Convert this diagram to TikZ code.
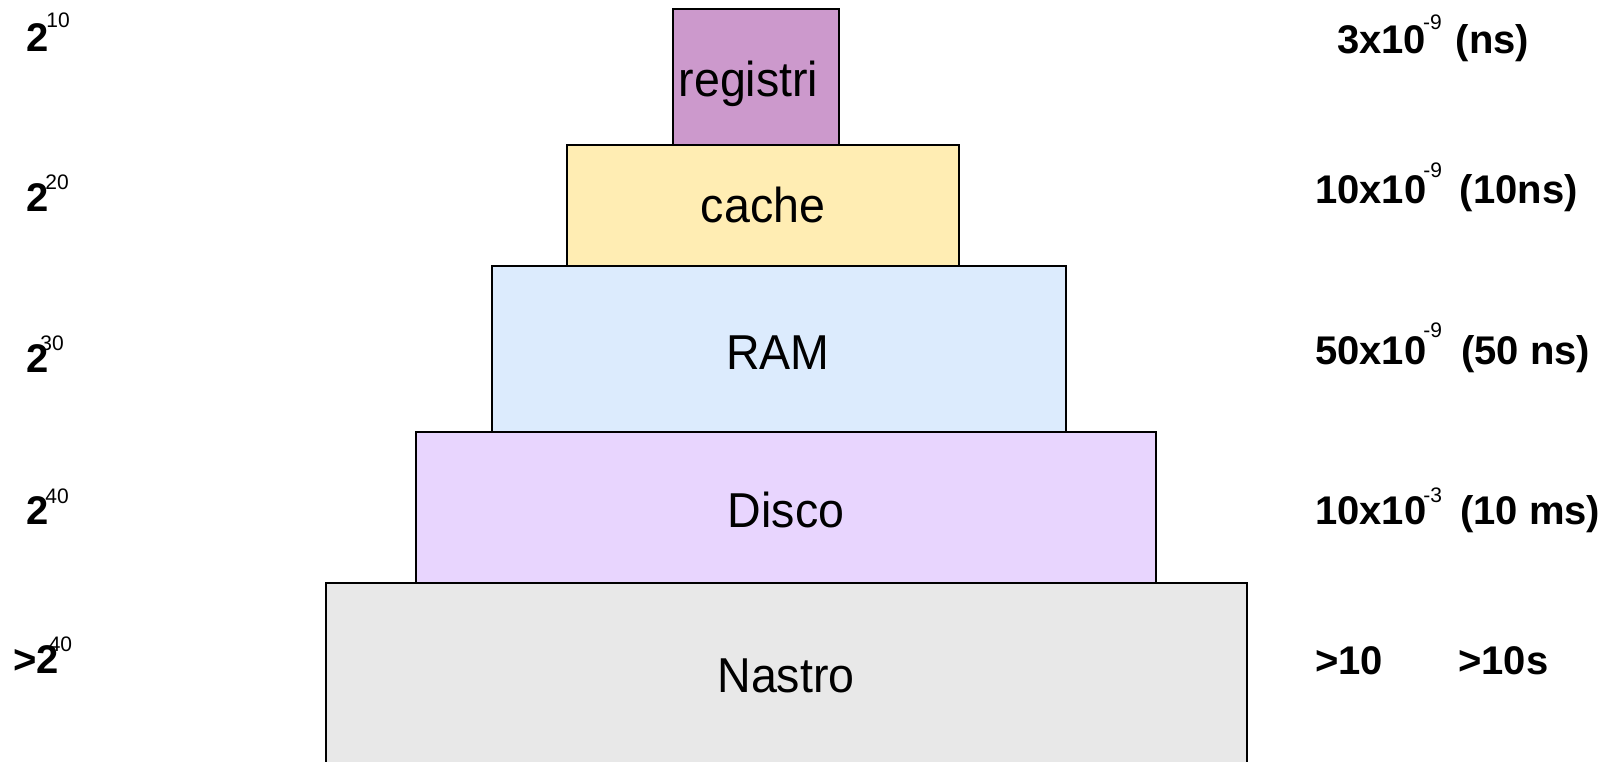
\documentclass[tikz,border=0pt]{standalone}
\usepackage{fontspec}
\setmainfont{Liberation Sans}
\newfontfamily\tierfont[FakeStretch=0.95]{Liberation Sans}
% raised exponent: kern, raise, text
\newcommand{\supx}[3]{\kern#1pt\raisebox{#2pt}{\normalfont\fontsize{21}{21}\selectfont #3}}
\definecolor{regcol}{HTML}{CC99CC}
\definecolor{cachecol}{HTML}{FFEDB3}
\definecolor{ramcol}{HTML}{DCEBFD}
\definecolor{discocol}{HTML}{E8D5FE}
\definecolor{nastrocol}{HTML}{E8E8E8}
\begin{document}
\begin{tikzpicture}[x=1pt,y=-1pt,
  tier/.style={draw=black, line width=1.5pt, inner sep=0pt, outer sep=0pt},
  tierlabel/.style={anchor=base, inner sep=0pt, font=\tierfont\fontsize{49}{49}\selectfont},
  sizelabel/.style={anchor=base west, inner sep=0pt, font=\bfseries\fontsize{40}{40}\selectfont},
  timelabel/.style={anchor=base west, inner sep=0pt, font=\bfseries\fontsize{40}{40}\selectfont}]
\useasboundingbox (0,0) rectangle (1612,762);
\clip (0,0) rectangle (1612,762);

% memory hierarchy tiers, widest at the bottom
\node[tier, fill=nastrocol, minimum width=921pt, minimum height=217pt] (nastro) at (786.5,691.5) {};
\node[tier, fill=discocol,  minimum width=740pt, minimum height=151pt] (disco)  at (786,507.5) {};
\node[tier, fill=ramcol,    minimum width=574pt, minimum height=166pt] (ram)    at (779,349) {};
\node[tier, fill=cachecol,  minimum width=392pt, minimum height=121pt] (cache)  at (763,205.5) {};
\node[tier, fill=regcol,    minimum width=166pt, minimum height=136pt] (reg)    at (756,77) {};

\node[tierlabel] (regtxt)    at (748.5,97) {registri};
\node[tierlabel] (cachetxt)  at (763,223) {cache};
\node[tierlabel] (ramtxt)    at (778,369) {RAM};
\node[tierlabel] (discotxt)  at (786,527) {Disco};
\node[tierlabel] (nastrotxt) at (786,692) {Nastro};

% capacities
\node[sizelabel] (s1) at (26,52)  {2\supx{-2}{24}{10}};
\node[sizelabel] (s2) at (26,212) {2\supx{-3}{22}{20}};
\node[sizelabel] (s3) at (26,372) {2\supx{-8}{22}{30}};
\node[sizelabel] (s4) at (26,524) {2\supx{-3}{21}{40}};
\node[sizelabel] (s5) at (13,673) {>2\supx{-10}{22}{40}};

% access times
\node[timelabel] (t1) at (1337,54)  {3x10\supx{-3}{24}{-9}\kern3pt{} (ns)};
\node[timelabel] (t2) at (1315,204) {10x10\supx{-3}{26}{-9} \,(10ns)};
\node[timelabel] (t3) at (1315,364) {50x10\supx{-3}{27}{-9}\kern8pt{} (50 ns)};
\node[timelabel] (t4) at (1315,524) {10x10\supx{-3}{22}{-3}\kern7pt{} (10 ms)};
\node[timelabel] (t5a) at (1315,674) {>10};
\node[timelabel] (t5b) at (1458,674) {>10s};
\end{tikzpicture}
\end{document}
